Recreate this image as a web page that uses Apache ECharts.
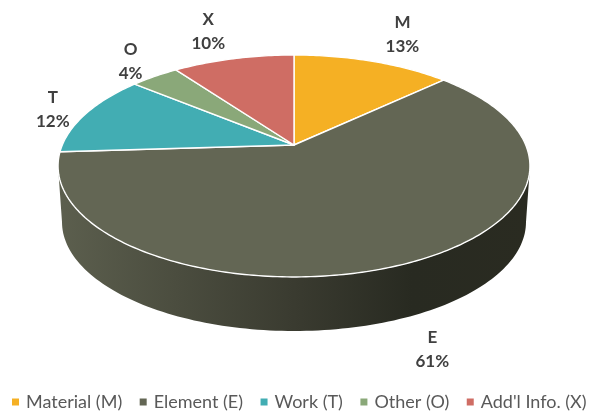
<!DOCTYPE html>
<html>
<head>
<meta charset="utf-8">
<style>html,body{margin:0;padding:0;background:#fff}#c{width:594px;height:414px}</style>
<script src="https://cdn.jsdelivr.net/npm/echarts@6/dist/echarts.min.js"></script>
</head>
<body>
<div id="c"></div>
<script>
const legendNames = ['Material (M)', 'Element (E)', 'Work (T)', 'Other (O)', "Add'l Info. (X)"];
const shortNames = ['M', 'E', 'T', 'O', 'X'];
const shares = [13, 61, 12, 4, 10];
const colors = ['#F5B024', '#636654', '#42ADB3', '#8AA879', '#CF6D64'];

// Perspective disc: where the pie's plane lands on the page
const apex = [294, 145], spanX = 231.7, spanY = 107, tilt = 0.189;
const rim = {cx: 294, cy: 166, rx: 236, ry: 111};
const base = {cx: 294, cy: 222, rx: 232, ry: 109};
// Label centre, relative to the rim point at the slice's middle angle
const labelShift = [[30, -27], [27, 86], [-33, -4], [-24, -15], [-25, -27]];

const total = shares.reduce((a, b) => a + b, 0);
function project(theta) {
  const u = Math.sin(theta), v = Math.cos(theta), d = 1 + tilt * v;
  return [apex[0] + spanX * u / d, apex[1] - spanY * v / d];
}
function sliceAngles(i) {
  const before = shares.slice(0, i).reduce((a, b) => a + b, 0);
  return [before / total * 2 * Math.PI, (before + shares[i]) / total * 2 * Math.PI];
}
function renderSlice(i) {
  const [a0, a1] = sliceAngles(i);
  const children = [];
  if (shares[i] === Math.max(...shares)) {
    const pts = [];
    for (let k = 0; k <= 120; k++) {
      const t = Math.PI * k / 120;
      pts.push([rim.cx + rim.rx * Math.cos(t), rim.cy + rim.ry * Math.sin(t)]);
    }
    for (let k = 120; k >= 0; k--) {
      const t = Math.PI * k / 120;
      pts.push([base.cx + base.rx * Math.cos(t), base.cy + base.ry * Math.sin(t)]);
    }
    children.push({
      type: 'polygon', shape: {points: pts},
      style: {fill: {type: 'linear', x: 0, y: 0, x2: 1, y2: 0, colorStops: [
        {offset: 0, color: '#5C5F4E'}, {offset: 0.5, color: '#3A3B30'},
        {offset: 0.75, color: '#282A21'}, {offset: 1, color: '#2A2B21'}]}}
    });
  }
  const top = [apex];
  const steps = Math.max(8, Math.ceil((a1 - a0) * 60));
  for (let k = 0; k <= steps; k++) top.push(project(a0 + (a1 - a0) * k / steps));
  children.push({
    type: 'polygon', shape: {points: top},
    style: {fill: colors[i], stroke: '#FFFFFF', lineWidth: 1.4, lineJoin: 'round'}
  });
  const mid = project((a0 + a1) / 2);
  children.push({
    type: 'text', z2: 10,
    style: {
      x: mid[0] + labelShift[i][0], y: mid[1] + labelShift[i][1],
      text: shortNames[i] + '\n' + shares[i] + '%',
      align: 'center', verticalAlign: 'middle',
      font: 'bold 17px Lato', fill: '#404040', lineHeight: 24
    }
  });
  return {type: 'group', children};
}

const chart = echarts.init(document.getElementById('c'), null, {renderer: 'canvas'});
chart.setOption({
  animation: false,
  backgroundColor: '#FFFFFF',
  legend: {
    data: legendNames,
    orient: 'horizontal',
    top: 393, left: 12, width: 582, padding: 0,
    icon: 'rect', itemWidth: 7, itemHeight: 7, itemGap: 17.5,
    selectedMode: false,
    textStyle: {fontFamily: 'Lato', fontSize: 18, color: '#595959', padding: [0, 0, 0, 2]}
  },
  series: legendNames.map((name, i) => ({
    type: 'custom', name, coordinateSystem: 'none', silent: true,
    itemStyle: {color: colors[i]},
    data: [shares[i]],
    renderItem: () => renderSlice(i)
  }))
});
</script>
</body>
</html>
